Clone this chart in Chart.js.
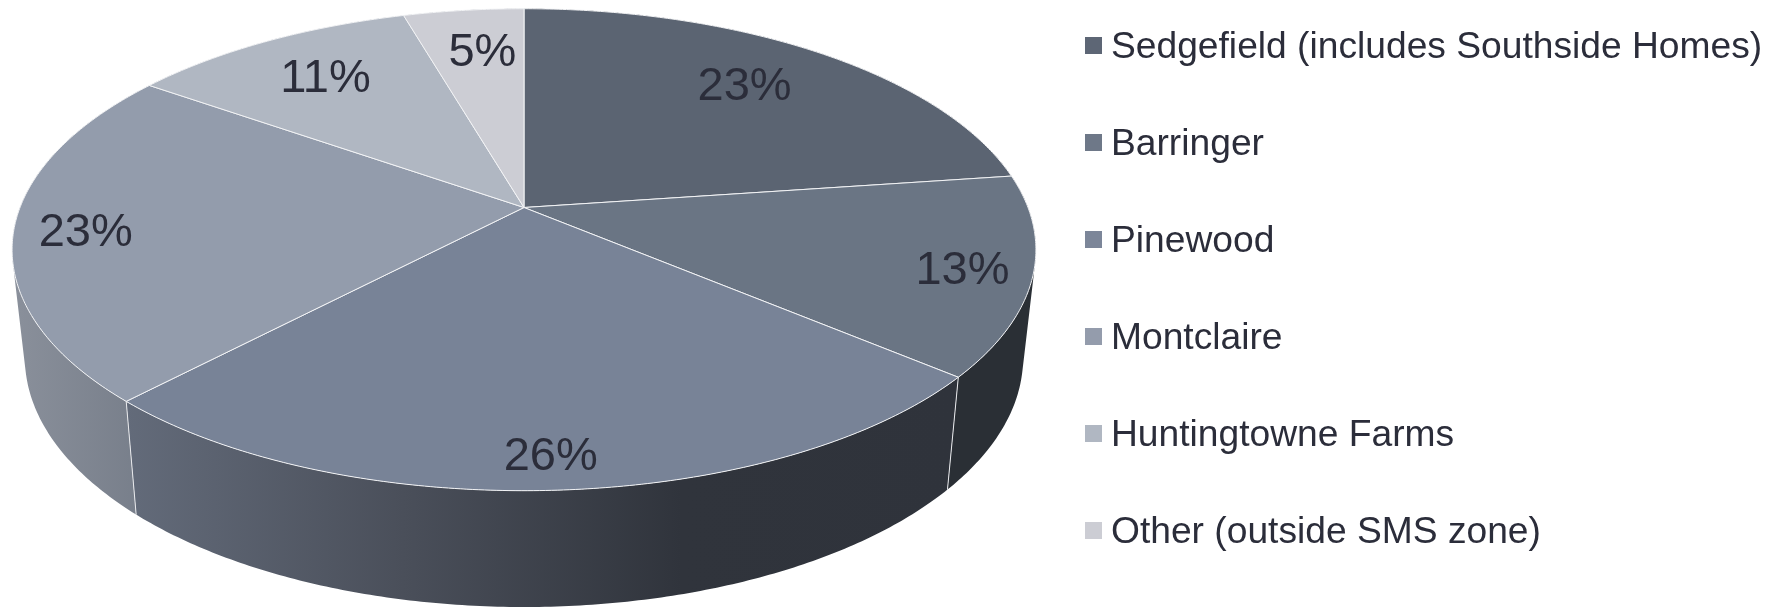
<!DOCTYPE html>
<html>
<head>
<meta charset="utf-8">
<title>Pie chart</title>
<script src="https://cdn.jsdelivr.net/npm/chart.js@4"></script>
<style>
  html, body { margin: 0; padding: 0; background: #fff; overflow: hidden; }
  #wrap { width: 1771px; height: 608px; }
</style>
</head>
<body>
<div id="wrap"><canvas id="pie"></canvas></div>
<script>
// --- Data ---
const categories = ['Sedgefield (includes Southside Homes)', 'Barringer', 'Pinewood', 'Montclaire', 'Huntingtowne Farms', 'Other (outside SMS zone)'];
const shares = [22.8, 13.35, 25.95, 22.65, 10.75, 4.5];
const topColors = ['#5b6472', '#6a7584', '#788397', '#939cac', '#b0b7c2', '#cccdd4'];
const legendColors = ['#5d6675', '#6e7888', '#7c8699', '#949cac', '#b0b7c2', '#cccdd4'];
// wall shading, left to right across each slice
const wallColors = [
  ['#2c3036', '#2c3036'],
  ['#2a2f35', '#2a2f35'],
  ['#636b7a', '#4a4f5a', '#30343c', '#2f333b'],
  ['#8a909b', '#757c88'],
  ['#8a909b', '#8a909b'],
  ['#8a909b', '#8a909b']
];

// --- Look ---
const TEXT_COLOR = '#2b2d3a';
const FONT = '"Liberation Sans", Arial, sans-serif';
// how far out along each slice its label sits, and a small turn in degrees
const labelReach = [0.745, 0.87, 0.90, 0.86, 0.75, 0.755];
const labelTurn = [-0.8, 1.2, 0.3, -1.6, 0, 1];

// perspective of the tilted disc
const disc = { x: 524, y: 207.5, b: 504, a: 233.6, p: -0.1751 };
const wall = { sx: 0.975, sy: 1.035, drop: 106.4 };

// Map a point on the unit disc to the page
function project(angle, r) {
  const u = Math.cos(angle) * r;
  const v = Math.sin(angle) * r;
  const d = 1 + disc.p * v;
  return { x: disc.x + disc.b * u / d, y: disc.y + disc.a * v / d };
}

function lower(pt) {
  return {
    x: disc.x + (pt.x - disc.x) * wall.sx,
    y: disc.y + (pt.y - disc.y) * wall.sy + wall.drop
  };
}

function rimPoints(start, end) {
  const steps = Math.max(2, Math.ceil((end - start) / 0.01));
  const pts = [];
  for (let i = 0; i <= steps; i++) {
    pts.push(project(start + (end - start) * i / steps, 1));
  }
  return pts;
}

// Adds one wall strip to the path, always wound the same way
function addQuad(ctx, a, b, c, d) {
  const quad = [a, b, c, d];
  let area = 0;
  quad.forEach((p, i) => {
    const q = quad[(i + 1) % 4];
    area += p.x * q.y - q.x * p.y;
  });
  if (area < 0) quad.reverse();
  ctx.moveTo(quad[0].x, quad[0].y);
  quad.slice(1).forEach(p => ctx.lineTo(p.x, p.y));
  ctx.closePath();
}

// Draws the arcs Chart.js laid out as a tilted 3D disc
const disc3d = {
  id: 'disc3d',
  beforeDatasetDraw(chart, args) {
    const ctx = chart.ctx;
    const arcs = args.meta.data;

    // side walls first
    arcs.forEach((arc, i) => {
      const top = rimPoints(arc.startAngle, arc.endAngle);
      const bottom = top.map(lower);
      const xs = top.concat(bottom).map(p => p.x);
      const grad = ctx.createLinearGradient(Math.min(...xs), 0, Math.max(...xs), 0);
      wallColors[i].forEach((c, k) => grad.addColorStop(k / (wallColors[i].length - 1), c));
      ctx.beginPath();
      for (let k = 0; k < top.length - 1; k++) {
        addQuad(ctx, top[k], top[k + 1], bottom[k + 1], bottom[k]);
      }
      ctx.fillStyle = grad;
      ctx.fill('nonzero');
    });

    // white seams on the near side of the wall
    ctx.strokeStyle = '#e8e9ec';
    ctx.lineWidth = 1;
    arcs.forEach(arc => {
      const p = project(arc.startAngle, 1);
      if (Math.sin(arc.startAngle) < 0.1) return;
      const q = lower(p);
      ctx.beginPath();
      ctx.moveTo(p.x, p.y);
      ctx.lineTo(q.x, q.y);
      ctx.stroke();
    });

    // top faces
    arcs.forEach((arc, i) => {
      ctx.beginPath();
      ctx.moveTo(disc.x, disc.y);
      rimPoints(arc.startAngle, arc.endAngle).forEach(p => ctx.lineTo(p.x, p.y));
      ctx.closePath();
      ctx.fillStyle = topColors[i];
      ctx.fill();
      ctx.strokeStyle = '#f2f3f5';
      ctx.lineWidth = 1;
      ctx.stroke();
    });

    // percent labels
    ctx.fillStyle = TEXT_COLOR;
    ctx.font = '47px ' + FONT;
    ctx.textAlign = 'center';
    ctx.textBaseline = 'middle';
    arcs.forEach((arc, i) => {
      const mid = (arc.startAngle + arc.endAngle) / 2 + labelTurn[i] * Math.PI / 180;
      const p = project(mid, labelReach[i]);
      ctx.fillText(Math.round(shares[i]) + '%', p.x, p.y);
    });
    return false;
  },
  afterDraw(chart) {
    const ctx = chart.ctx;
    ctx.save();
    ctx.font = '37.2px ' + FONT;
    ctx.textAlign = 'left';
    ctx.textBaseline = 'alphabetic';
    categories.forEach((name, i) => {
      const rowY = 45.5 + i * 97;
      ctx.fillStyle = legendColors[i];
      ctx.fillRect(1085, rowY - 8.5, 17, 17);
      ctx.fillStyle = TEXT_COLOR;
      ctx.fillText(name, 1111, rowY + 12.5);
    });
    ctx.restore();
  }
};

new Chart(document.getElementById('pie'), {
  type: 'pie',
  data: {
    labels: categories,
    datasets: [{ data: shares, backgroundColor: topColors, borderWidth: 0 }]
  },
  options: {
    responsive: true,
    maintainAspectRatio: false,
    animation: false,
    plugins: {
      legend: { display: false },
      tooltip: { enabled: false }
    }
  },
  plugins: [disc3d]
});
</script>
</body>
</html>
